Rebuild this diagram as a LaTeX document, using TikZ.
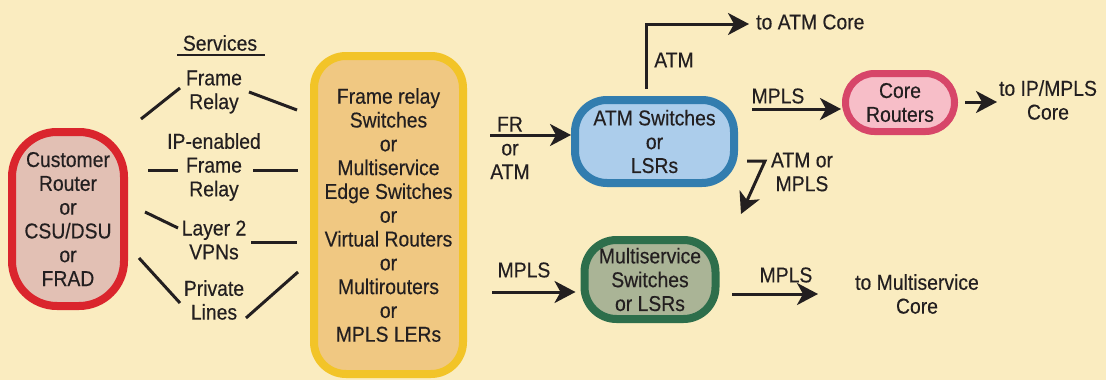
\documentclass[tikz,border=0pt]{standalone}
\usepackage{fontspec}
\setmainfont[FakeStretch=0.9,FakeBold=0.35]{Liberation Sans}
\usetikzlibrary{arrows.meta}
\definecolor{bg}{RGB}{250,236,192}
\definecolor{ink}{RGB}{35,31,32}
\definecolor{custfill}{RGB}{226,192,180}
\definecolor{custline}{RGB}{218,37,45}
\definecolor{edgefill}{RGB}{240,200,130}
\definecolor{edgeline}{RGB}{242,196,40}
\definecolor{atmfill}{RGB}{172,205,235}
\definecolor{atmline}{RGB}{50,125,175}
\definecolor{corefill}{RGB}{247,190,200}
\definecolor{coreline}{RGB}{215,70,105}
\definecolor{msfill}{RGB}{170,180,150}
\definecolor{msline}{RGB}{45,110,75}
\begin{document}
\begin{tikzpicture}[x=1pt,y=-1pt,
  txt/.style={text=ink,align=center,inner sep=0pt,font=\fontsize{21.5}{23.8}\selectfont},
  box/.style={txt,draw,line width=8pt,rounded corners=#1},
  conn/.style={draw=ink,line width=3pt},
  arr/.style={conn,-{Stealth[length=21pt,width=22pt,inset=6pt]}}]
\fill[bg] (0,0) rectangle (1106,380);
% main nodes
\node[box=45pt,draw=custline,fill=custfill,minimum width=112pt,minimum height=174pt] (cust) at (68,219) {Customer\\Router\\or\\CSU/DSU\\or\\FRAD};
\node[box=32pt,draw=edgeline,fill=edgefill,minimum width=149pt,minimum height=318pt] (edge) at (388.5,215) {Frame relay\\Switches\\or\\Multiservice\\Edge Switches\\or\\Virtual Routers\\or\\Multirouters\\or\\MPLS LERs};
\node[box=32pt,draw=atmline,fill=atmfill,minimum width=159pt,minimum height=83pt] (atm) at (654.5,141.5) {ATM Switches\\or\\LSRs};
\node[box=29pt,line width=7pt,draw=coreline,fill=corefill,minimum width=109pt,minimum height=58pt] (core) at (900,102.5) {Core\\Routers};
\node[box=32pt,draw=msline,fill=msfill,minimum width=131pt,minimum height=79pt] (ms) at (650,279.5) {Multiservice\\Switches\\or LSRs};
% services
\node[txt] (svc) at (220,43) {Services};
\coordinate (ulA) at (177,55); \coordinate (ulB) at (265,55);
\draw[ink,line width=2.5pt] (ulA) -- (ulB);
\node[txt] (fr) at (214,92) {Frame\\Relay};
\node[txt] (ipfr) at (214,167) {IP-enabled\\Frame\\Relay};
\node[txt] (l2) at (214,240) {Layer 2\\VPNs};
\node[txt] (pl) at (214,300) {Private\\Lines};
\coordinate (a1) at (141,119); \coordinate (a2) at (180,88);
\coordinate (a3) at (249,92);  \coordinate (a4) at (297,110);
\coordinate (b1) at (148,170); \coordinate (b2) at (178,170);
\coordinate (b3) at (253,170); \coordinate (b4) at (298,170);
\coordinate (c1) at (145,212); \coordinate (c2) at (178,228);
\coordinate (c3) at (251,242); \coordinate (c4) at (297,242);
\coordinate (d1) at (139,258); \coordinate (d2) at (180,303);
\coordinate (d3) at (246,318); \coordinate (d4) at (298,272);
\draw[conn] (a1)--(a2); \draw[conn] (a3)--(a4);
\draw[conn] (b1)--(b2); \draw[conn] (b3)--(b4);
\draw[conn] (c1)--(c2); \draw[conn] (c3)--(c4);
\draw[conn] (d1)--(d2); \draw[conn] (d3)--(d4);
% FR or ATM into ATM switches
\coordinate (frS) at (490,135);
\draw[arr] (frS) -- (atm.west |- frS);
\node[txt] (frlab) at (510,148) {FR\\or\\ATM};
% ATM up to ATM core
\coordinate (upS) at (646,89);
\coordinate (upC) at (646,24);
\node[txt,anchor=west] (atmcore) at (756,22) {to ATM Core};
\draw[arr] (upS) -- (upC) -- ([xshift=-7pt]atmcore.west |- upC);
\node[txt] (atmlab) at (674,60) {ATM};
% MPLS to core routers
\coordinate (mpS) at (752,109);
\draw[arr] (mpS) -- ([xshift=-1pt]core.west |- mpS);
\node[txt] (mplab1) at (778,96) {MPLS};
% core to IP/MPLS core
\node[txt] (ipcore) at (1048,100) {to IP/MPLS\\Core};
\coordinate (crS) at (965,102);
\coordinate (crE) at (997,102);
\draw[arr] (crS) -- (crE);
% ATM or MPLS down
\coordinate (dn1) at (747,161); \coordinate (dn2) at (765,161); \coordinate (dn3) at (741,214);
\draw[arr,line join=miter] (dn1) -- (dn2) -- (dn3);
\node[txt] (aomlab) at (802,172) {ATM or\\MPLS};
% MPLS into multiservice
\coordinate (msS) at (492,292);
\draw[arr] (msS) -- ([xshift=-5pt]ms.west |- msS);
\node[txt] (mplab2) at (524,270) {MPLS};
% multiservice out
\coordinate (moS) at (732,294); \coordinate (moE) at (818,294);
\draw[arr] (moS) -- (moE);
\node[txt] (mplab3) at (786,275) {MPLS};
\node[txt] (mscore) at (917,294) {to Multiservice\\Core};
\end{tikzpicture}
\end{document}
